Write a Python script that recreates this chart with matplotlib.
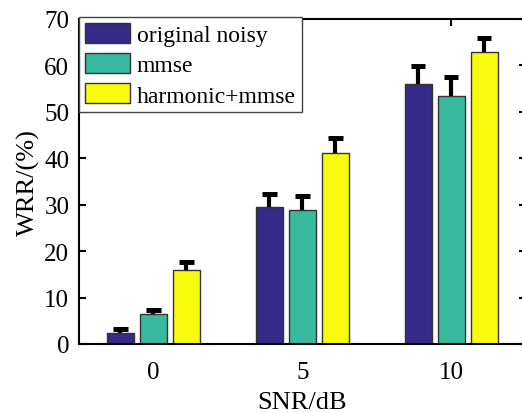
import numpy as np
import matplotlib.pyplot as plt

# data
snr = [0, 5, 10]
series = ["original noisy", "mmse", "harmonic+mmse"]
noisy = [2.4, 29.4, 56.0]
mmse = [6.4, 28.9, 53.5]
harm = [16.0, 41.2, 62.8]
noisy_err = [0.9, 2.9, 3.9]
mmse_err = [0.9, 3.0, 4.1]
harm_err = [1.6, 3.1, 3.1]

colors = ["#352a87", "#38b99e", "#f9fb0e"]

plt.rcParams["font.family"] = ["Liberation Serif", "DejaVu Serif"]

fig = plt.figure(figsize=(5.22, 4.14), dpi=100)
ax = fig.add_axes([0.1513, 0.1667, 0.856, 0.785])

x = np.array(snr, dtype=float)
step = 1.108
width = 0.896
cap = 0.48
vals = [noisy, mmse, harm]
errs = [noisy_err, mmse_err, harm_err]
for i in range(3):
    pos = x + (i - 1) * step
    v = np.array(vals[i])
    top = v + np.array(errs[i])
    ax.bar(pos, v, width, color=colors[i], edgecolor="#333333",
           linewidth=1.0, label=series[i], zorder=2)
    # one-sided error bars: stem and top cap only
    ax.vlines(pos, v, top, color="black", linewidth=3.0, zorder=3)
    ax.hlines(top, pos - cap / 2, pos + cap / 2, color="black",
              linewidth=3.6, zorder=3)

ax.set_xlim(-2.5, 12.5)
ax.set_ylim(0, 70)
ax.set_xticks(snr)
ax.set_yticks(range(0, 71, 10))
ax.tick_params(direction="in", top=True, right=True, labelsize=18,
               width=1.5, length=5)
ax.tick_params(axis="x", pad=12)
ax.tick_params(axis="y", pad=7)
for s in ax.spines.values():
    s.set_linewidth(1.5)

ax.set_xlabel("SNR/dB", fontsize=19, labelpad=6)
ax.set_ylabel("WRR/(%)", fontsize=19, labelpad=3)

leg = ax.legend(loc="upper left", bbox_to_anchor=(0.0, 1.006), fontsize=17,
                fancybox=False, edgecolor="#444444", framealpha=1,
                handlelength=1.9, handleheight=0.93, handletextpad=0.3,
                labelspacing=0.3, borderpad=0.25, borderaxespad=0)
leg.get_frame().set_linewidth(1.0)

fig.savefig("out.png", dpi=100)
